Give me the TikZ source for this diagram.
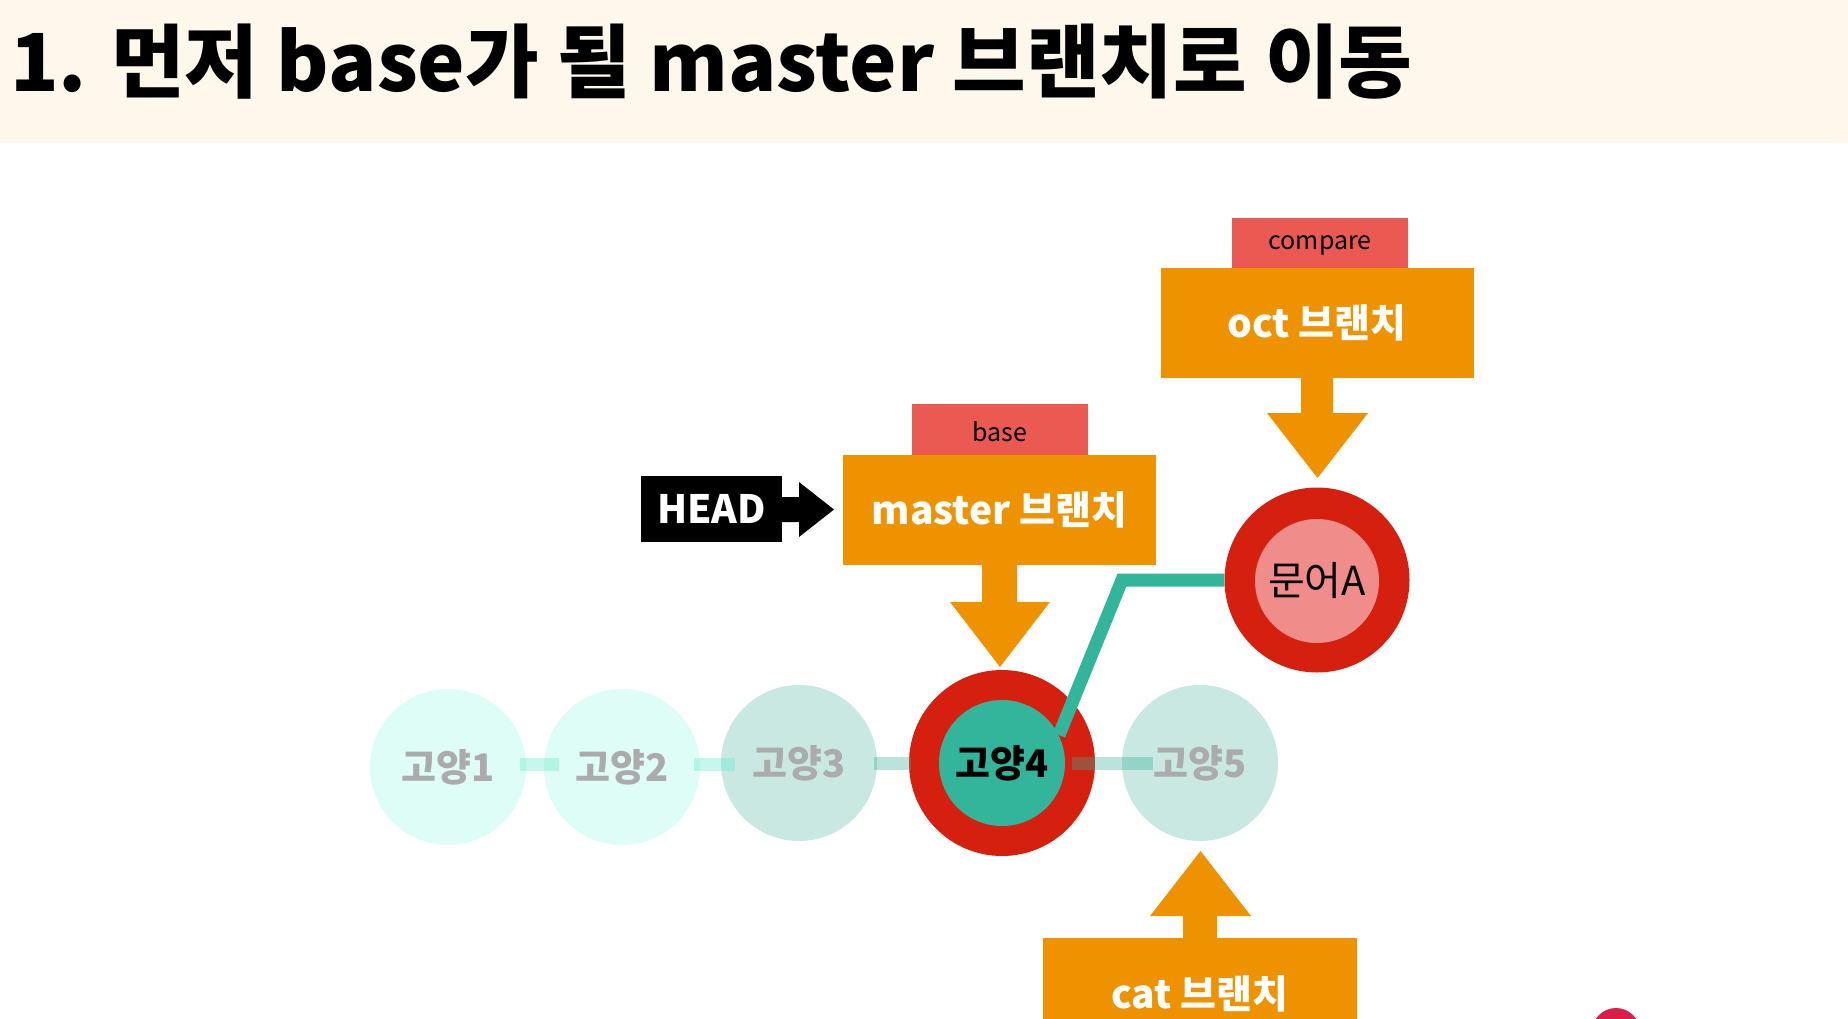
\documentclass[tikz,border=0pt]{standalone}
\usepackage{fontspec}
\setmainfont{Noto Sans CJK KR}
\definecolor{hdrbg}{HTML}{FEF8EC}
\definecolor{orangeC}{HTML}{EF9200}
\definecolor{tagred}{HTML}{EB5A52}
\definecolor{ringred}{HTML}{D52010}
\definecolor{tealC}{HTML}{33B59C}
\definecolor{pinkC}{HTML}{F08C8A}
\definecolor{mintA}{HTML}{DEFDF6}
\definecolor{mintB}{HTML}{C8E8E1}
\definecolor{lineA}{HTML}{5EE8C8}
\definecolor{lineB}{HTML}{3AAE98}
\definecolor{graytxt}{HTML}{ABABAB}
\definecolor{logored}{HTML}{D81E4A}
\begin{document}
\begin{tikzpicture}[x=1pt,y=-1pt,
  box/.style={rectangle, fill=orangeC, text=white, font=\bfseries\fontsize{39}{39}\selectfont, inner sep=0pt, minimum width=313pt, minimum height=110pt},
  tagbox/.style={rectangle, fill=tagred, text=black, font=\fontsize{25}{25}\selectfont, inner sep=0pt, minimum width=176pt, minimum height=55pt},
  commit/.style={circle, inner sep=0pt, minimum size=156pt},
  clabel/.style={font=\bfseries\fontsize{38}{38}\selectfont, text=graytxt, inner sep=0pt},
  linkA/.style={draw=lineA, draw opacity=0.35, line width=13pt},
  linkB/.style={draw=lineB, draw opacity=0.35, line width=13pt},
  blockarrow/.style={fill=orangeC}
]
\useasboundingbox (0,0) rectangle (1848,1018);
\clip (0,0) rectangle (1848,1018);
% header
\fill[hdrbg] (0,0) rectangle (1848,143);
\node[anchor=west, inner sep=0pt, font=\bfseries\fontsize{80}{80}\selectfont] (title) at (10,62) {1. 먼저 base가 될 master 브랜치로 이동};

% commits
\node[commit, fill=mintA] (g1) at (448,767) {};
\node[commit, fill=mintA] (g2) at (622,767) {};
\node[commit, fill=mintB] (g3) at (799,763) {};
\node[circle, inner sep=0pt, minimum size=186pt, fill=ringred] (g4o) at (1002,763) {};
\node[circle, inner sep=0pt, minimum size=126pt, fill=tealC, font=\bfseries\fontsize{38}{38}\selectfont, text=black] (g4) at (1002,763) {고양4};
\node[commit, fill=mintB] (g5) at (1200,763) {};

% oct commit
\node[circle, inner sep=0pt, minimum size=185pt, fill=ringred] (munA) at (1317,580) {};
\node[circle, inner sep=0pt, minimum size=124pt, fill=pinkC, font=\fontsize{40}{40}\selectfont, text=black] (munAi) at (1317,581) {문어A};

% links
\draw[linkA] (520,764) -- (559,764);
\draw[linkA] (694,764) -- (735,764);
\draw[linkB] (874,763) -- (911,763);
\draw[linkB] (1072,763) -- (1153,763);

\node[clabel] (l1) at (g1) {고양1};
\node[clabel] (l2) at (g2) {고양2};
\node[clabel] (l3) at (g3) {고양3};
\node[clabel] (l5) at (g5) {고양5};

% teal connector
\coordinate (tstart) at (1059,735);
\draw[tealC, line width=13pt, line join=miter] (tstart) -- (1122,580) -- (munA.west);

% master branch
\node[tagbox] (base) at (1000,431.5) {base};
\node[box] (master) at (999.5,510) {master 브랜치};
\fill[blockarrow] (982,563) -- (982,602) -- (950,602) -- (1000,667) -- (1050,602) -- (1017,602) -- (1017,563) -- cycle;

% HEAD
\node[rectangle, fill=black, text=white, inner sep=0pt, minimum width=141pt, minimum height=66pt, font=\bfseries\fontsize{39}{39}\selectfont] (head) at (711.5,509) {HEAD};
\fill[black] (781,497) -- (799,497) -- (799,482) -- (834,509.5) -- (799,537) -- (799,522) -- (781,522) -- cycle;

% oct branch
\node[tagbox] (compare) at (1320,245) {compare};
\node[box] (oct) at (1317,322.5) {oct 브랜치};
\fill[blockarrow] (1301,376) -- (1301,413) -- (1267,413) -- (1317.5,478) -- (1368,413) -- (1333,413) -- (1333,376) -- cycle;

% cat branch
\node[box, minimum width=314pt, minimum height=111pt] (cat) at (1200,993.5) {cat 브랜치};
\fill[blockarrow] (1183,940) -- (1183,916) -- (1150,916) -- (1200.5,851) -- (1251,916) -- (1217,916) -- (1217,940) -- cycle;

% logo fragment
\fill[logored] (1616,1032) circle (24);
\end{tikzpicture}
\end{document}
